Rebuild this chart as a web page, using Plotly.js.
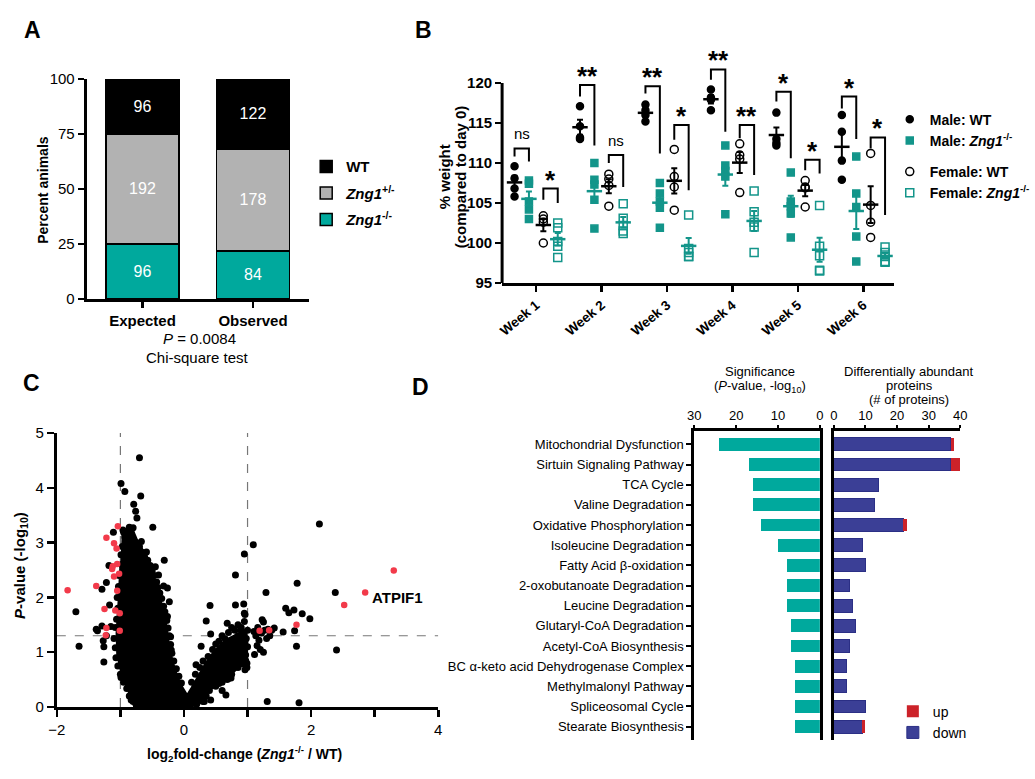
<!DOCTYPE html>
<html>
<head>
<meta charset="utf-8">
<script src="https://cdn.plot.ly/plotly-3.0.1.min.js"></script>
<style>
  html, body { margin: 0; padding: 0; background: #fff; }
  #fig { width: 1035px; height: 779px; }
</style>
</head>
<body>
<div id="fig"></div>
<script>
// ---------- A: offspring genotypes ----------
const genotypeNames = ["WT", "<i>Zng1</i><sup>+/-</sup>", "<i>Zng1</i><sup>-/-</sup>"];
const groupsA = ["Expected", "Observed"];
const expectedCounts = [96, 192, 96];
const observedCounts = [122, 178, 84];

// ---------- B: % weight by week ----------
const weeks = ["Week 1", "Week 2", "Week 3", "Week 4", "Week 5", "Week 6"];
const maleWT = [
  [109.6, 108.1, 106.8, 105.8],
  [117.1, 114.6, 113.2, 113.0],
  [117.3, 116.6, 116.0, 115.2],
  [119.2, 118.2, 117.9, 116.6],
  [116.3, 113.0, 112.5, 112.2],
  [116.0, 113.9, 110.3, 107.9]
];
const maleKO = [
  [107.8, 107.4, 105.2, 104.2, 103.0],
  [110.0, 107.9, 107.3, 105.4, 101.8],
  [107.5, 106.2, 105.2, 104.4, 101.9],
  [112.2, 109.7, 109.0, 108.3, 103.6],
  [108.8, 105.2, 104.6, 103.7, 100.7],
  [110.8, 106.2, 104.5, 100.8, 97.7]
];
const femaleWT = [
  [103.4, 103.0, 102.6, 100.0],
  [108.6, 108.0, 107.2, 104.6],
  [111.7, 108.3, 107.0, 104.1],
  [112.4, 111.0, 110.5, 106.3],
  [107.8, 107.0, 106.9, 104.5],
  [111.2, 104.7, 102.6, 100.7]
];
const femaleKO = [
  [102.5, 101.9, 100.2, 99.6, 98.2],
  [104.9, 103.1, 102.2, 101.5, 101.2],
  [103.5, 99.3, 98.8, 98.3, 98.3],
  [106.5, 103.9, 102.6, 102.0, 98.8],
  [104.7, 99.6, 98.4, 96.6, 96.5],
  [99.5, 98.8, 98.3, 97.7, 97.6]
];
const maleSig = ["ns", "**", "**", "**", "*", "*"];
const femaleSig = ["*", "ns", "*", "**", "*", "*"];
// [left leg end, bracket top, right leg end]
const maleBracket = [[110.8, 111.8, 110.2], [118.3, 119.75, 112.2], [118.7, 119.6, 111.2], [120.4, 121.7, 113.9], [117.7, 118.9, 110.6], [116.8, 118.3, 113.0]];
const femaleBracket = [[105.4, 106.8, 105.0], [110.0, 111.0, 107.0], [112.9, 114.75, 106.6], [113.1, 114.75, 108.5], [109.1, 110.4, 108.7], [111.8, 113.2, 103.5]];

// ---------- C: volcano ----------
const volcanoPoints = [
  [-1.70,1.74],[-1.65,1.11],[-1.38,1.42],[-1.36,1.39],[-1.29,2.15],[-1.29,1.48],[-1.26,1.10],[-1.26,0.82],
  [-1.27,1.21],[-1.22,2.27],[-1.18,2.58],[-1.17,1.86],[-1.11,3.19],[-1.22,1.30],[-1.15,1.47],
  [-0.99,4.08],[-0.93,3.93],[-0.70,4.55],[-0.68,3.85],[-0.79,3.70],[-0.76,3.57],[-0.74,3.45],[-0.95,3.19],
  [-0.83,3.17],[-0.67,3.02],[-0.59,2.83],[-0.49,3.28],[-0.31,2.68],[-0.45,2.56],[-0.32,2.21],[-0.40,2.41],
  [-0.26,2.17],[-0.23,1.92],[-0.26,1.65],[-0.21,1.28],[-0.20,1.04],[-0.82,0.26],[-0.99,0.54],[-0.75,0.28],
  [-0.83,0.13],[-0.67,0.05],
  [-0.96,3.23],[-0.90,3.20],[-0.86,3.28],[-0.80,3.27],[-0.93,3.10],[-0.88,3.03],[-0.82,3.08],[-0.76,3.00],
  [-0.70,2.93],[-0.97,2.93],[-0.65,2.82],[-0.62,2.74],[-0.57,2.68],[-0.53,2.58],[-0.99,2.78],[-0.98,2.60],
  [-0.50,2.48],[-0.47,2.40],[-0.43,2.28],[-0.41,2.18],[-0.38,2.08],[-0.35,1.98],[-0.32,1.84],[-0.30,1.74],
  [-0.27,1.58],[-0.25,1.44],[-0.23,1.30],[-0.21,1.14],[-0.19,0.98],[-0.16,0.84],[-0.12,0.70],[-0.08,0.56],
  [-0.04,0.44],
  [-1.02,2.40],[-1.03,2.20],[-1.05,2.00],[-1.04,1.80],[-1.06,1.60],[-1.08,1.45],[-1.10,1.25],[-1.08,1.08],
  [-1.07,0.90],[-1.04,0.75],[-1.00,0.60],[-0.95,0.45],[-0.90,0.34],[-0.86,0.20],[-0.80,0.10],[-0.75,0.04],
  [-0.60,0.02],[-0.45,0.03],[-0.30,0.02],[-0.15,0.03],[0.00,0.02],[0.10,0.03],[0.20,0.05],[0.30,0.10],
  [0.12,0.45],[0.18,0.60],[0.25,0.72],[0.30,0.84],[0.38,0.92],[0.45,1.05],[0.50,1.15],[0.55,1.20],
  [0.60,1.30],[0.65,1.24],[0.70,1.36],[0.75,1.45],[0.80,1.40],[0.85,1.50],[0.90,1.45],[0.95,1.56],
  [1.00,1.40],[0.98,1.25],[1.00,1.10],[0.97,0.95],[0.99,0.80],[0.96,0.68],
  [0.85,0.72],[0.75,0.60],[0.68,0.50],[0.60,0.45],[0.50,0.38],[0.40,0.30],[0.35,0.20],[0.25,0.12],
  [0.41,1.85],[0.35,1.57],[0.42,1.33],[0.27,1.11],[0.68,1.53],[0.81,2.41],[0.81,1.86],[0.95,2.79],
  [1.09,2.96],[0.94,1.88],[0.95,1.71],[0.96,1.69],[0.74,0.53],[0.66,0.22],[0.60,0.30],[0.19,0.77],
  [0.36,0.61],[0.32,0.10],[0.42,0.13],[0.55,0.43],[0.70,0.52],
  [2.13,3.34],[1.78,2.26],[1.29,2.09],[2.38,2.09],[1.60,1.80],[1.65,1.72],[1.73,1.77],[1.86,1.70],
  [1.98,1.61],[1.56,1.37],[1.74,1.39],[1.77,1.11],[2.40,1.04],[1.31,0.10],[1.81,0.08],[1.42,1.44],
  [1.23,1.59],[1.25,1.55],[1.11,0.96],[1.13,1.30],[1.18,1.22],[1.15,1.12],[1.22,1.35],[1.27,1.40],
  [1.32,1.42],[1.20,1.05],[1.25,1.00],[1.30,1.25],[1.35,1.30],[1.10,1.38],[1.16,1.45],[1.38,1.40],
  [0.85,1.30],[0.88,1.15],[0.92,1.00],[0.97,0.85],[0.99,0.72],[0.90,1.40],[0.80,1.20],[0.85,1.05]
];
// densest part of the cloud, traced as an outline
const blobOutline = [
  [-0.98,3.15],[-0.90,3.25],[-0.80,3.22],[-0.72,3.00],[-0.64,2.85],[-0.55,2.62],[-0.47,2.38],[-0.40,2.10],
  [-0.33,1.80],[-0.27,1.45],[-0.23,1.10],[-0.17,0.80],[-0.10,0.55],[-0.02,0.35],[0.05,0.22],
  [0.12,0.35],[0.22,0.55],[0.33,0.78],[0.45,0.98],[0.58,1.15],[0.72,1.26],[0.85,1.34],[0.96,1.40],
  [1.00,1.25],[0.99,0.95],[0.97,0.75],[0.88,0.74],[0.72,0.58],[0.55,0.45],[0.42,0.32],[0.30,0.17],
  [0.20,0.03],[0.00,0.00],[-0.78,0.00],[-0.85,0.22],[-0.97,0.55],[-1.05,0.95],[-1.06,1.35],
  [-1.03,1.90],[-1.00,2.60]
];
const sigPoints = [
  [-1.83,2.13],[-1.38,2.21],[-1.22,3.09],[-1.04,3.30],[-1.10,2.99],[-1.06,2.89],[-1.12,2.57],[-1.13,2.52],
  [-1.05,2.61],[-1.02,2.43],[-1.10,2.38],[-1.05,2.12],[-1.25,1.79],[-1.08,1.76],[-1.01,1.71],[-1.22,1.44],
  [-1.23,1.31],[-1.01,1.39],[3.30,2.49],[2.85,2.09],[2.52,1.86],[1.77,1.50],[1.19,1.39],[1.34,1.40]
];
const foldCut = 1, pCut = 1.3;

// ---------- D: pathways ----------
const pathways = ["Mitochondrial Dysfunction", "Sirtuin Signaling Pathway", "TCA Cycle", "Valine Degradation",
  "Oxidative Phosphorylation", "Isoleucine Degradation", "Fatty Acid β-oxidation", "2-oxobutanoate Degradation",
  "Leucine Degradation", "Glutaryl-CoA Degradation", "Acetyl-CoA Biosynthesis",
  "BC α-keto acid Dehydrogenase Complex", "Methylmalonyl Pathway", "Spliceosomal Cycle", "Stearate Biosynthesis"];
const significance = [24.0, 17.0, 16.0, 16.0, 14.0, 9.9, 7.9, 7.9, 7.9, 7.0, 7.0, 5.9, 5.9, 5.9, 5.9];
const downCounts = [37, 37, 14, 13, 22, 9, 10, 5, 6, 7, 5, 4, 4, 10, 9];
const upCounts = [1, 3, 0, 0, 1, 0, 0, 0, 0, 0, 0, 0, 0, 0, 1];

// ---------- styling ----------
const FONT = "Arial, 'Liberation Sans', sans-serif";
const TEAL = "#00a99d", TEAL_B = "#13958a", GREY = "#b2b2b2";
const BLUE = "#3b3f96", RED = "#cc2229", VRED = "#f23a4a";
const B_DOMAIN = [0.6367, 0.9191], B_RANGE = [95, 122.5];

const mean = (a) => a.reduce((s, v) => s + v, 0) / a.length;
const sem = (a) => {
  let m = mean(a);
  let v = a.reduce((s, x) => s + (x - m) * (x - m), 0) / (a.length - 1);
  return Math.sqrt(v) / Math.sqrt(a.length);
};
// paper-space text helper (centered)
const ann = (px, py, text, size, extra) => Object.assign({
  xref: "paper", yref: "paper", x: px / 1035, y: 1 - py / 779, text: text,
  xanchor: "center", yanchor: "middle", showarrow: false, font: { size: size, family: FONT, color: "#000" }
}, extra || {});

let traces = [];

// A bars (bottom segment first)
const sumExp = expectedCounts.reduce((s, v) => s + v, 0);
const sumObs = observedCounts.reduce((s, v) => s + v, 0);
const colorsA = ["#000", GREY, TEAL];
[2, 1, 0].forEach((i) => {
  traces.push({
    type: "bar", xaxis: "x", yaxis: "y",
    x: [0, 1],
    y: [expectedCounts[i] / sumExp * 100, observedCounts[i] / sumObs * 100],
    text: [String(expectedCounts[i]), String(observedCounts[i])],
    textposition: "inside", insidetextanchor: "middle", constraintext: "none",
    textfont: { color: "#fff", size: 16, family: FONT },
    width: 0.66, cliponaxis: false,
    marker: { color: colorsA[i], line: { color: "#000", width: 1.5 } },
    name: "<b>" + genotypeNames[i] + "</b>", legendgroup: "g" + i, legendrank: i + 1, legend: "legend",
    hoverinfo: "skip"
  });
});

// B scatter + mean/SEM
const groupOffsets = [-0.33, -0.11, 0.11, 0.33];
const groupDefs = [
  { name: "<b>Male: WT</b>", data: maleWT, color: "#000", symbol: "circle", size: 7, lg: "male" },
  { name: "<b>Male: <i>Zng1</i><sup>-/-</sup></b>", data: maleKO, color: TEAL_B, symbol: "square", size: 7, lg: "male" },
  { name: "<b>Female: WT</b>", data: femaleWT, color: "#000", symbol: "circle-open", size: 8, lg: "female" },
  { name: "<b>Female: <i>Zng1</i><sup>-/-</sup></b>", data: femaleKO, color: TEAL_B, symbol: "square-open", size: 8, lg: "female" }
];
groupDefs.forEach((g, gi) => {
  let off = groupOffsets[gi];
  let xs = [], ys = [];
  g.data.forEach((vals, w) => vals.forEach((v) => { xs.push(w + off); ys.push(v); }));
  traces.push({
    type: "scatter", mode: "markers", xaxis: "x2", yaxis: "y2",
    x: xs, y: ys, name: g.name, legend: "legend2", legendgroup: g.lg,
    marker: { symbol: g.symbol, size: g.size, color: g.color, line: { color: g.color, width: 1.5 } },
    cliponaxis: false, hoverinfo: "skip"
  });
  traces.push({
    type: "scatter", mode: "markers", xaxis: "x2", yaxis: "y2",
    x: weeks.map((_, w) => w + off), y: g.data.map(mean),
    error_y: { type: "data", array: g.data.map(sem), color: g.color, thickness: 2, width: 3 },
    marker: { symbol: "line-ew", size: 11, color: g.color, line: { color: g.color, width: 2.5 } },
    showlegend: false, cliponaxis: false, hoverinfo: "skip"
  });
});

// B significance brackets; labels placed in paper space so they are never culled
const xB = [0.4870, 0.8667], xRangeB = [-0.52, 5.46];
const toPaperX = (v) => xB[0] + (v - xRangeB[0]) / (xRangeB[1] - xRangeB[0]) * (xB[1] - xB[0]);
const toPaperY = (v) => B_DOMAIN[0] + (v - B_RANGE[0]) / (B_RANGE[1] - B_RANGE[0]) * (B_DOMAIN[1] - B_DOMAIN[0]);
let bx = [], by = [];
let sigAnn = [];
[[maleBracket, maleSig, 0, 1], [femaleBracket, femaleSig, 2, 3]].forEach(([br, sig, a, b]) => {
  br.forEach((lv, w) => {
    let xl = w + groupOffsets[a], xr = w + groupOffsets[b];
    bx.push(xl, xl, xr, xr, null);
    by.push(lv[0], lv[1], lv[1], lv[2], null);
    let isStar = sig[w] !== "ns";
    sigAnn.push({
      xref: "paper", yref: "paper", x: toPaperX((xl + xr) / 2), y: toPaperY(lv[1] + 1.75),
      xanchor: "center", yanchor: "middle",
      text: isStar ? "<b>" + sig[w] + "</b>" : sig[w], showarrow: false,
      font: { size: isStar ? 26 : 15, family: FONT, color: "#000" },
      yshift: isStar ? -5 : 1
    });
  });
});
traces.push({
  type: "scatter", mode: "lines", xaxis: "x2", yaxis: "y2", x: bx, y: by,
  line: { color: "#000", width: 2 }, showlegend: false, hoverinfo: "skip"
});

// C volcano
traces.push({
  type: "scatter", mode: "lines", xaxis: "x3", yaxis: "y3",
  x: blobOutline.map((p) => p[0]), y: blobOutline.map((p) => p[1]),
  fill: "toself", fillcolor: "#000", line: { color: "#000", width: 2 },
  showlegend: false, hoverinfo: "skip"
});
traces.push({
  type: "scatter", mode: "markers", xaxis: "x3", yaxis: "y3",
  x: volcanoPoints.map((p) => p[0]), y: volcanoPoints.map((p) => p[1]),
  marker: { color: "#000", size: 7 }, showlegend: false, hoverinfo: "skip"
});
traces.push({
  type: "scatter", mode: "markers", xaxis: "x3", yaxis: "y3",
  x: sigPoints.map((p) => p[0]), y: sigPoints.map((p) => p[1]),
  marker: { color: VRED, size: 6.5 }, showlegend: false, hoverinfo: "skip"
});

// D bars
traces.push({
  type: "bar", orientation: "h", xaxis: "x4", yaxis: "y4",
  x: significance, y: pathways, width: 0.63,
  marker: { color: TEAL, line: { width: 0 } }, showlegend: false, hoverinfo: "skip"
});
traces.push({
  type: "bar", orientation: "h", xaxis: "x5", yaxis: "y5",
  x: downCounts, y: pathways, width: 0.63, name: "down", legend: "legend3",
  marker: { color: BLUE, line: { color: "#2b2f85", width: 1 } }, hoverinfo: "skip"
});
traces.push({
  type: "bar", orientation: "h", xaxis: "x5", yaxis: "y5",
  x: upCounts, y: pathways, width: 0.63, name: "up", legend: "legend3",
  marker: { color: RED, line: { width: 0 } }, hoverinfo: "skip"
});

// ---------- layout ----------
const axBase = {
  showgrid: false, zeroline: false, showline: true, linecolor: "#000", linewidth: 3,
  ticks: "outside", tickcolor: "#000", tickwidth: 2.5, ticklen: 6, fixedrange: true
};
const bold = (s) => "<b>" + s + "</b>";

const layout = {
  width: 1035, height: 779,
  margin: { l: 0, r: 0, t: 0, b: 0 },
  paper_bgcolor: "#fff", plot_bgcolor: "rgba(0,0,0,0)",
  font: { family: FONT, color: "#000", size: 13 },
  barmode: "stack",
  legend: {
    x: 0.297, y: 0.807, xanchor: "left", yanchor: "top", bgcolor: "rgba(0,0,0,0)",
    font: { size: 15, family: FONT }, traceorder: "grouped", tracegroupgap: 4
  },
  legend2: {
    x: 0.863, y: 0.867, xanchor: "left", yanchor: "top", bgcolor: "rgba(0,0,0,0)",
    font: { size: 14, family: FONT }, traceorder: "grouped", tracegroupgap: 10
  },
  legend3: {
    x: 0.866, y: 0.107, xanchor: "left", yanchor: "top", bgcolor: "rgba(0,0,0,0)",
    font: { size: 14, family: FONT }, traceorder: "reversed"
  },
  xaxis: Object.assign({}, axBase, {
    domain: [0.0841, 0.2995], anchor: "y", range: [-0.505, 1.505],
    tickvals: [0, 1], ticktext: groupsA.map(bold), tickfont: { size: 15 }
  }),
  yaxis: Object.assign({}, axBase, {
    domain: [0.6162, 0.8986], anchor: "x", range: [0, 100],
    tickvals: [0, 25, 50, 75, 100], tickfont: { size: 15 }
  }),
  xaxis2: Object.assign({}, axBase, {
    domain: xB, anchor: "y2", range: xRangeB,
    tickvals: weeks.map((_, i) => i), ticktext: weeks.map(bold), tickangle: -40, tickfont: { size: 13.5 }
  }),
  yaxis2: Object.assign({}, axBase, {
    domain: B_DOMAIN, anchor: "x2", range: B_RANGE, showline: false,
    tickvals: [95, 100, 105, 110, 115, 120], ticktext: ["95", "100", "105", "110", "115", "120"].map(bold),
    tickfont: { size: 15 }
  }),
  xaxis3: Object.assign({}, axBase, {
    domain: [0.0551, 0.4251], anchor: "y3", range: [-2, 4], dtick: 2, tick0: 0,
    tickfont: { size: 15 }, ticklen: 7,
    minor: { dtick: 1, tick0: 0, ticks: "outside", ticklen: 7, tickwidth: 2.5, tickcolor: "#000", showgrid: false }
  }),
  yaxis3: Object.assign({}, axBase, {
    domain: [0.0924, 0.4442], anchor: "x3", range: [0, 5],
    tickvals: [0, 1, 2, 3, 4, 5], tickfont: { size: 15 }, ticklen: 7
  }),
  xaxis4: Object.assign({}, axBase, {
    domain: [0.6734, 0.7952], anchor: "y4", side: "top", range: [30, 0],
    tickvals: [0, 10, 20, 30], tickfont: { size: 13 }, ticklen: 3, tickwidth: 2
  }),
  yaxis4: Object.assign({}, axBase, {
    domain: [0.0501, 0.4467], anchor: "x4", type: "category",
    categoryorder: "array", categoryarray: pathways, range: [14.66, -0.66],
    mirror: true, tickfont: { size: 13 }, ticklen: 5, tickwidth: 2
  }),
  xaxis5: Object.assign({}, axBase, {
    domain: [0.8087, 0.9314], anchor: "y5", side: "top", range: [0, 40],
    tickvals: [0, 10, 20, 30, 40], tickfont: { size: 13 }, ticklen: 3, tickwidth: 2
  }),
  yaxis5: Object.assign({}, axBase, {
    domain: [0.0501, 0.4467], anchor: "x5", type: "category",
    categoryorder: "array", categoryarray: pathways, range: [14.66, -0.66],
    ticks: "", showticklabels: false
  }),
  shapes: [
    { type: "line", xref: "x2 domain", x0: 0, x1: 0, yref: "y2", y0: 95, y1: 120, line: { color: "#000", width: 3 } },
    { type: "line", xref: "x3", yref: "y3", x0: -foldCut, x1: -foldCut, y0: 0, y1: 5, layer: "below", line: { color: "#777", width: 1.2, dash: "dash" } },
    { type: "line", xref: "x3", yref: "y3", x0: foldCut, x1: foldCut, y0: 0, y1: 5, layer: "below", line: { color: "#777", width: 1.2, dash: "dash" } },
    { type: "line", xref: "x3", yref: "y3", x0: -2, x1: 4, y0: pCut, y1: pCut, layer: "below", line: { color: "#777", width: 1.2, dash: "dash" } }
  ],
  annotations: [
    // panel letters
    ann(33, 30, "<b>A</b>", 23),
    ann(425, 30, "<b>B</b>", 23),
    ann(32, 383, "<b>C</b>", 23),
    ann(422, 387, "<b>D</b>", 23),
    // A texts
    ann(43, 190, "<b>Percent animals</b>", 14, { textangle: -90 }),
    ann(200, 338, "<i>P</i> = 0.0084", 15),
    ann(198, 357, "Chi-square test", 15),
    // B axis title
    ann(446, 177, "<b>% weight</b>", 15, { textangle: -90 }),
    ann(462, 177, "<b>(compared to day 0)</b>", 15, { textangle: -90 }),
    // C texts
    ann(20, 565, "<b><i>P</i>-value (-log<sub>10</sub>)</b>", 15, { textangle: -90 }),
    ann(245, 754, "<b>log<sub>2</sub>fold-change (<i>Zng1</i><sup>-/-</sup> / WT)</b>", 14),
    { xref: "x3", yref: "y3", x: 2.93, y: 1.99, xanchor: "left", yanchor: "middle", text: "<b>ATPIF1</b>", showarrow: false, font: { size: 15 } },
    // D headers
    ann(763, 371, "Significance", 13),
    ann(763, 386, "(<i>P</i>-value, -log<sub>10</sub>)", 13),
    ann(913, 371, "Differentially abundant", 13),
    ann(913, 385, "proteins", 13),
    ann(913, 399, "(# of proteins)", 13)
  ].concat(sigAnn)
};

Plotly.newPlot("fig", traces, layout, { staticPlot: true, displayModeBar: false });
</script>
</body>
</html>
